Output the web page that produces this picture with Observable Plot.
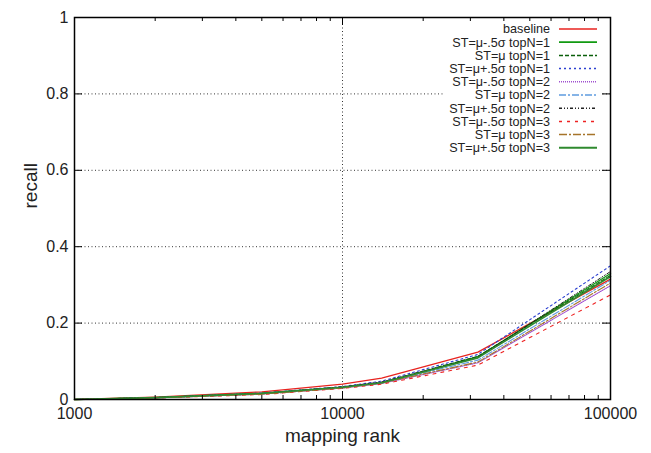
<!DOCTYPE html>
<html>
<head>
<meta charset="utf-8">
<script src="https://cdn.jsdelivr.net/npm/d3@7"></script>
<script src="https://cdn.jsdelivr.net/npm/@observablehq/plot@0.6"></script>
<style>
  html, body { margin: 0; padding: 0; background: #fff; }
  svg { font-family: "Liberation Sans", Arial, Helvetica, sans-serif; }
</style>
</head>
<body>
<div id="chart"></div>
<script>
const ranks = [1000, 2000, 5000, 10000, 14000, 32000, 100000];
const seriesNames = [
  "baseline",
  "ST=μ-.5σ topN=1",
  "ST=μ topN=1",
  "ST=μ+.5σ topN=1",
  "ST=μ-.5σ topN=2",
  "ST=μ topN=2",
  "ST=μ+.5σ topN=2",
  "ST=μ-.5σ topN=3",
  "ST=μ topN=3",
  "ST=μ+.5σ topN=3"
];
const baseline   = [0, 0.006, 0.020, 0.040, 0.056, 0.124, 0.315];
const muM_N1     = [0, 0.005, 0.016, 0.032, 0.043, 0.112, 0.330];
const mu_N1      = [0, 0.005, 0.016, 0.033, 0.045, 0.113, 0.325];
const muP_N1     = [0, 0.005, 0.017, 0.034, 0.048, 0.118, 0.350];
const muM_N2     = [0, 0.004, 0.014, 0.030, 0.042, 0.096, 0.298];
const mu_N2      = [0, 0.004, 0.015, 0.031, 0.044, 0.103, 0.312];
const muP_N2     = [0, 0.005, 0.016, 0.033, 0.046, 0.110, 0.335];
const muM_N3     = [0, 0.004, 0.013, 0.029, 0.040, 0.090, 0.274];
const mu_N3      = [0, 0.004, 0.014, 0.030, 0.043, 0.098, 0.305];
const muP_N3     = [0, 0.005, 0.016, 0.032, 0.044, 0.109, 0.322];
const seriesValues = [baseline, muM_N1, mu_N1, muP_N1, muM_N2, mu_N2, muP_N2, muM_N3, mu_N3, muP_N3];

const colors = ["#e8231f", "#119a11", "#0b5f0b", "#2b3fd0", "#a050d0", "#5f9ce0", "#222222", "#ee2222", "#a6742a", "#2f8a2f"];
const dashes = [null, null, "4,2", "2,3", "1,1", "7,2,2,2", "3,2,1,2,1,2", "3,5", "8,2,2,2", null];
const widths = [1.3, 1.3, 1.1, 1.1, 1.1, 1.1, 1.0, 1.1, 1.1, 1.6];

const xMajor = [1000, 10000, 100000];
const xMinor = [2000,3000,4000,5000,6000,7000,8000,9000,20000,30000,40000,50000,60000,70000,80000,90000];
const yTicks = [0, 0.2, 0.4, 0.6, 0.8, 1];
const yGrid = [0.2, 0.4, 0.6, 0.8];
const xGrid = [10000];

const W = 651, H = 453;
const mL = 74, mR = 41, mT = 17, mB = 54;
const fH = H - mT - mB, fW = W - mL - mR;

const lineMarks = seriesNames.map((name, i) =>
  Plot.line(ranks.map((r, j) => ({rank: r, recall: seriesValues[i][j]})), {
    x: "rank", y: "recall",
    stroke: colors[i], strokeWidth: widths[i],
    strokeDasharray: dashes[i] || undefined
  })
);

const chart = Plot.plot({
  width: W, height: H,
  marginLeft: mL, marginRight: mR, marginTop: mT, marginBottom: mB,
  style: {fontFamily: "Liberation Sans, Arial, sans-serif", background: "#fff"},
  x: {type: "log", domain: [1000, 100000]},
  y: {domain: [0, 1]},
  marks: [
    Plot.ruleY(yGrid, {stroke: "#000", strokeDasharray: "1,2.5", strokeWidth: 0.8}),
    Plot.ruleX(xGrid, {stroke: "#000", strokeDasharray: "1,2.5", strokeWidth: 0.8}),
    ...lineMarks,
    Plot.ruleX(xMajor, {stroke: "#000", insetTop: fH - 8}),
    Plot.ruleX(xMajor, {stroke: "#000", insetBottom: fH - 8}),
    Plot.ruleX(xMinor, {stroke: "#000", insetTop: fH - 4}),
    Plot.ruleX(xMinor, {stroke: "#000", insetBottom: fH - 4}),
    Plot.ruleY(yTicks, {stroke: "#000", insetRight: fW - 8}),
    Plot.ruleY(yTicks, {stroke: "#000", insetLeft: fW - 8}),
    Plot.axisX(xMajor, {tickSize: 0, tickPadding: 8, fontSize: 16, fill: "#222", tickFormat: d => String(d), label: null}),
    Plot.axisY(yTicks, {tickSize: 0, tickPadding: 6, fontSize: 16, fill: "#222", tickFormat: d => String(d), label: null}),
    Plot.text(["mapping rank"], {frameAnchor: "bottom", dy: 42, fontSize: 19, fill: "#222"}),
    Plot.text(["recall"], {frameAnchor: "left", dx: -44, rotate: -90, fontSize: 19, fill: "#222"}),
    Plot.frame({stroke: "#000", strokeWidth: 1.5})
  ]
});

document.getElementById("chart").appendChild(chart);

const svg = d3.select(chart);
const lg = svg.append("g").attr("class", "legend");
const rowH = 13.2, y0 = 29, textRight = 550, lx1 = 559, lx2 = 597;
lg.append("rect")
  .attr("x", 444).attr("y", y0 - 8)
  .attr("width", lx2 - 444 + 4).attr("height", rowH * (seriesNames.length - 1) + 16)
  .attr("fill", "#fff");
seriesNames.forEach((name, i) => {
  const y = y0 + i * rowH;
  lg.append("text")
    .attr("x", textRight).attr("y", y)
    .attr("dy", "0.35em")
    .attr("text-anchor", "end")
    .attr("font-size", 12.6)
    .attr("fill", "#222")
    .text(name);
  const ln = lg.append("line")
    .attr("x1", lx1).attr("x2", lx2).attr("y1", y).attr("y2", y)
    .attr("stroke", colors[i]).attr("stroke-width", widths[i] + 0.4);
  if (dashes[i]) ln.attr("stroke-dasharray", dashes[i]);
});
svg.node().appendChild(svg.select("[aria-label=frame]").node());
</script>
</body>
</html>
